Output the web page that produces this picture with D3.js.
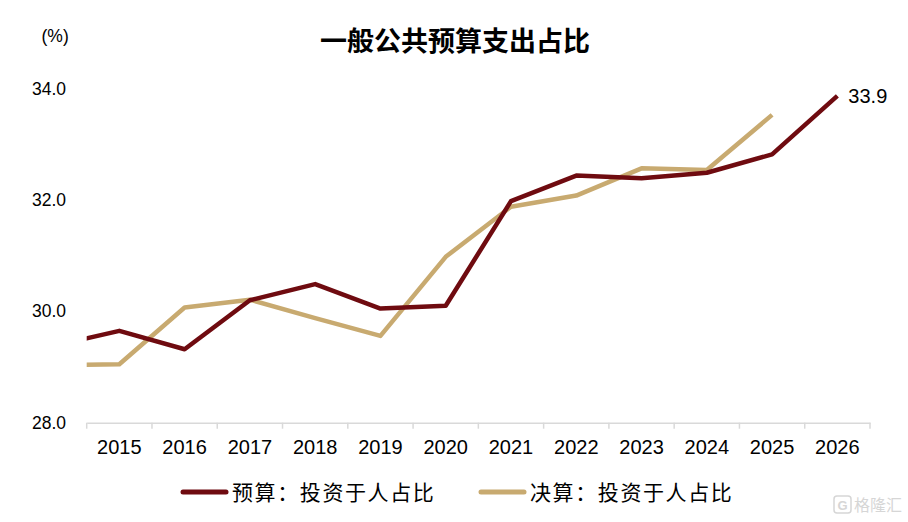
<!DOCTYPE html>
<html><head><meta charset="utf-8">
<script src="https://cdn.jsdelivr.net/npm/d3@7"></script>
<style>
html,body{margin:0;padding:0;background:#fff;}
svg{display:block;}
</style>
</head><body>
<div id="chart"></div>
<script>
const title = "一般公共预算支出占比";
const unitLabel = "(%)";
const categories = ["2015","2016","2017","2018","2019","2020","2021","2022","2023","2024","2025","2026"];
// line years (first point lies just outside the left edge and is clipped)
const years = [2014, 2015, 2016, 2017, 2018, 2019, 2020, 2021, 2022, 2023, 2024, 2025, 2026];
const budgetName = "预算：投资于人占比";
const budgetValues = [29.38, 29.65, 29.32, 30.20, 30.49, 30.05, 30.10, 31.98, 32.44, 32.39, 32.49, 32.82, 33.87];
const finalName = "决算：投资于人占比";
const finalValues = [29.03, 29.05, 30.07, 30.21, 29.88, 29.56, 30.98, 31.88, 32.08, 32.57, 32.54, 33.53, null];
const yTicks = [28, 30, 32, 34];
const endLabel = "33.9";

const W = 908, H = 522;
const mLeft = 86.7, mRight = 870, mTop = 88.7, mBottom = 422.7;
const darkColor = "#6F0B10", tanColor = "#C8AA70";
const svg = d3.select("#chart").append("svg").attr("width", W).attr("height", H);

const x = d3.scaleBand().domain(categories).range([mLeft, mRight]).paddingInner(0).paddingOuter(0);
const xc = d3.scaleLinear().domain([2014.5, 2026.5]).range([mLeft, mRight]);
const y = d3.scaleLinear().domain([28, 34]).range([mBottom, mTop]);

// title
svg.append("text").attr("x", 455).attr("y", 51).attr("text-anchor", "middle")
  .style("font-family", "'Noto Sans CJK SC', sans-serif").style("font-weight", "bold")
  .style("font-size", "27px").attr("fill", "#000").text(title);

svg.append("text").attr("x", 41.5).attr("y", 41.5)
  .style("font-family", "'Liberation Sans', Arial, sans-serif").style("font-size", "17.5px")
  .attr("fill", "#000").text(unitLabel);

// y axis labels
const yAxis = d3.axisLeft(y).tickValues(yTicks).tickFormat(d3.format(".1f")).tickSize(0).tickPadding(0);
const gy = svg.append("g").attr("transform", `translate(66,0)`).call(yAxis);
gy.select(".domain").remove();
gy.selectAll("text").style("font-family", "'Liberation Sans', Arial, sans-serif")
  .style("font-size", "17.5px").attr("fill", "#000");

// x axis
const xAxis = d3.axisBottom(x).tickSize(0).tickPadding(0);
const gx = svg.append("g").attr("transform", `translate(0,${mBottom})`).call(xAxis);
gx.select(".domain").attr("stroke", "#d9d9d9").attr("stroke-width", 1.5);
gx.selectAll("text").attr("y", 31.6).attr("dy", 0)
  .style("font-family", "'Liberation Sans', Arial, sans-serif").style("font-size", "20px").attr("fill", "#000");
// boundary ticks
const bounds = categories.map(c => x(c)).concat([x(categories[categories.length-1]) + x.bandwidth()]);
gx.selectAll(".btick").data(bounds).enter().append("line").attr("class", "btick")
  .attr("x1", d => d).attr("x2", d => d).attr("y1", 0).attr("y2", 6)
  .attr("stroke", "#d9d9d9").attr("stroke-width", 1.5);

// clip
svg.append("clipPath").attr("id", "plotclip").append("rect")
  .attr("x", mLeft).attr("y", 0).attr("width", W - mLeft).attr("height", H);

const line = d3.line().defined(d => d[1] != null).x(d => xc(d[0])).y(d => y(d[1]));

const plot = svg.append("g").attr("clip-path", "url(#plotclip)");
plot.append("path").datum(years.map((yr, i) => [yr, finalValues[i]]))
  .attr("d", line).attr("fill", "none").attr("stroke", tanColor).attr("stroke-width", 4.5)
  .attr("stroke-linejoin", "round");
plot.append("path").datum(years.map((yr, i) => [yr, budgetValues[i]]))
  .attr("d", line).attr("fill", "none").attr("stroke", darkColor).attr("stroke-width", 4.5)
  .attr("stroke-linejoin", "round");

// end label
const lastIdx = years.length - 1;
svg.append("text").attr("x", xc(years[lastIdx]) + 11).attr("y", y(budgetValues[lastIdx]) + 7.5)
  .style("font-family", "'Liberation Sans', Arial, sans-serif").style("font-size", "20px")
  .attr("fill", "#000").text(endLabel);

// legend
const legend = [
  {name: budgetName, color: darkColor, x0: 183},
  {name: finalName, color: tanColor, x0: 481}
];
legend.forEach(l => {
  svg.append("line").attr("x1", l.x0).attr("x2", l.x0 + 43).attr("y1", 492).attr("y2", 492)
    .attr("stroke", l.color).attr("stroke-width", 5).attr("stroke-linecap", "round");
  svg.append("text").attr("x", l.x0 + 49).attr("y", 499.5)
    .style("font-family", "'Noto Sans CJK SC', sans-serif").style("font-size", "21px")
    .style("letter-spacing", "1.6px").attr("fill", "#000").text(l.name);
});

// watermark
svg.append("rect").attr("x", 834).attr("y", 496).attr("width", 17).attr("height", 17).attr("rx", 3)
  .attr("fill", "none").attr("stroke", "#d6d6d6").attr("stroke-width", 1.5);
svg.append("text").attr("x", 842.5).attr("y", 509.5).attr("text-anchor", "middle")
  .style("font-family", "'Liberation Sans', Arial, sans-serif").style("font-size", "13px").style("font-weight", "bold")
  .attr("fill", "#d6d6d6").text("G");
svg.append("text").attr("x", 902).attr("y", 511).attr("text-anchor", "end")
  .style("font-family", "'Noto Sans CJK SC', sans-serif").style("font-size", "16px")
  .attr("fill", "#d6d6d6").text("格隆汇");
</script>
</body></html>
